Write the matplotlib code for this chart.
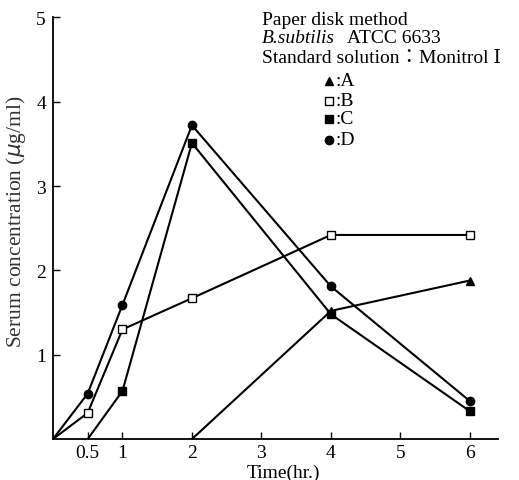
import matplotlib
matplotlib.use("Agg")
import matplotlib.pyplot as plt

# Serum concentration (ug/ml) vs time (hr.)
time_a = [2, 4, 6]
conc_a = [0, 1.52, 1.88]
time_b = [0, 0.5, 1, 2, 4, 6]
conc_b = [0, 0.31, 1.30, 1.67, 2.42, 2.42]
time_c = [0.5, 1, 2, 4, 6]
conc_c = [0, 0.57, 3.51, 1.48, 0.33]
time_d = [0, 0.5, 1, 2, 4, 6]
conc_d = [0, 0.54, 1.59, 3.72, 1.81, 0.45]

x_ticks = [0.5, 1, 2, 3, 4, 5, 6]
x_labels = ["0.5", "1", "2", "3", "4", "5", "6"]
y_ticks = [1, 2, 3, 4, 5]
series_names = ["A", "B", "C", "D"]


def main():
    plt.rcParams["font.family"] = ["Liberation Serif", "DejaVu Serif",
                                   "Noto Sans CJK JP"]
    fig = plt.figure(figsize=(5.19, 4.81), dpi=100)
    ax = fig.add_axes([0.102, 0.085, 0.857, 0.877])

    kw = dict(color="black", lw=1.5)
    ax.plot(time_a, conc_a, marker="^", ms=6, mfc="black", mec="black",
            markevery=[1, 2], **kw)
    ax.plot(time_b, conc_b, marker="s", ms=6, mfc="white", mec="black",
            markevery=[1, 2, 3, 4, 5], **kw)
    ax.plot(time_c, conc_c, marker="s", ms=6, mfc="black", mec="black",
            markevery=[1, 2, 3, 4], **kw)
    ax.plot(time_d, conc_d, marker="o", ms=6, mfc="black", mec="black",
            markevery=[1, 2, 3, 4, 5], **kw)

    ax.set_xlim(0, 6.4)
    ax.set_ylim(0, 5)
    ax.spines["top"].set_visible(False)
    ax.spines["right"].set_visible(False)
    ax.spines["left"].set_linewidth(1.3)
    ax.spines["bottom"].set_linewidth(1.3)
    ax.set_xticks(x_ticks, x_labels)
    ax.set_yticks(y_ticks)
    ax.tick_params(direction="in", length=5, width=1, labelsize=14)
    ax.tick_params(axis="y", pad=5)

    # axis labels
    fig.text(283 / 519, 1 - 473 / 481, "Time(hr.)", fontsize=14,
             ha="center", va="center")
    fig.text(16 / 519, 1 - 222 / 481, "Serum concentration ($\\mu$g/ml)",
             fontsize=15.5, rotation=90, ha="center", va="center",
             color="#333333")

    # annotation block
    fig.text(0.505, 0.958, "Paper disk method", fontsize=14, va="center")
    fig.text(0.505, 0.919, "B.subtilis", fontsize=14, style="italic",
             va="center")
    fig.text(0.669, 0.919, "ATCC 6633", fontsize=14, va="center")
    fig.text(0.505, 0.879, "Standard solution\uff1aMonitrol \u2160",
             fontsize=14, va="center")

    # legend
    markers = [("^", "black"), ("s", "white"), ("s", "black"), ("o", "black")]
    ys = [0.830, 0.788, 0.751, 0.707]
    for (m, fc), lab, yy in zip(markers, series_names, ys):
        fig.lines.append(plt.Line2D([0.634], [yy], marker=m, ms=6,
                                    mfc=fc, mec="black",
                                    transform=fig.transFigure))
        fig.text(0.647, yy, ":" + lab, fontsize=14, va="center")

    fig.savefig("out.png", dpi=100)


if __name__ == "__main__":
    main()
